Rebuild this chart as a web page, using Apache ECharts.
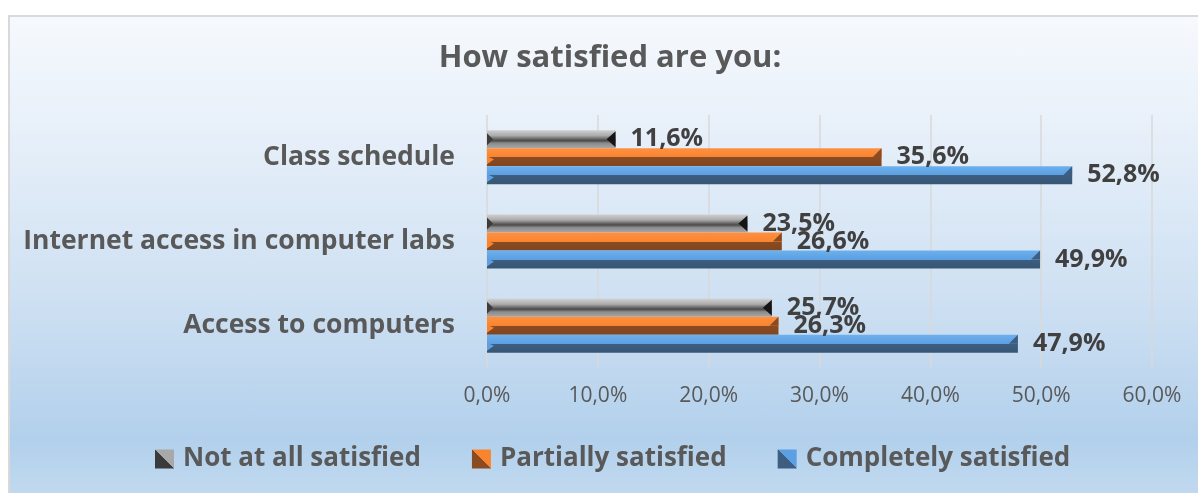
<!DOCTYPE html>
<html>
<head>
<meta charset="utf-8">
<script src="https://cdn.jsdelivr.net/npm/echarts@6/dist/echarts.min.js"></script>
<style>
html,body{margin:0;padding:0;background:#fff;overflow:hidden;}
#frame{position:absolute;left:8px;top:15px;width:1240px;height:490px;border-top:2px solid #D9D9D9;border-left:2px solid #D9D9D9;
background:linear-gradient(to bottom,#F6F9FD 0%,#E6EFF9 25%,#CCDFF2 60%,#B2D0EC 86%,#C4DBF0 100%);}
#chart{position:absolute;left:0;top:0;width:1198px;height:493px;}
</style>
</head>
<body>
<div id="frame"></div>
<div id="chart"></div>
<script>
const categories = ['Access to computers', 'Internet access in computer labs', 'Class schedule'];
const completely = [47.9, 49.9, 52.8];
const partially = [26.3, 26.6, 35.6];
const notAtAll = [25.7, 23.5, 11.6];
const seriesNames = ['Completely satisfied', 'Partially satisfied', 'Not at all satisfied'];
const legendOrder = ['Not at all satisfied', 'Partially satisfied', 'Completely satisfied'];
const xTicks = {min: 0, max: 60, interval: 10};

const FONT = '"Open Sans"';
const BAR_W = 18;

function grad(stops) {
  return new echarts.graphic.LinearGradient(0, 0, 0, 1, stops.map(s => ({offset: s[0], color: s[1]})));
}
function diag(c1, c2) {
  return new echarts.graphic.LinearGradient(0, 1, 1, 0, [
    {offset: 0, color: c1}, {offset: 0.5, color: c1}, {offset: 0.5, color: c2}, {offset: 1, color: c2}]);
}
const blueFill = grad([[0, '#6DB0EE'], [0.5, '#5C9FE2'], [0.5, '#3D5E80'], [1, '#375574']]);
const orangeFill = grad([[0, '#FF9040'], [0.5, '#F98430'], [0.5, '#8A4B22'], [1, '#804520']]);
const grayFill = grad([[0, '#D0D0D0'], [0.3, '#ABABAB'], [0.48, '#6A6A6A'], [0.58, '#4A4A4A'], [0.72, '#8A8A8A'], [1, '#A8A8A8']]);

const fmt = v => v.toFixed(1).replace('.', ',') + '%';

function barSeries(name, data, fill) {
  return {
    name: name, type: 'bar', data: data, barWidth: BAR_W, barGap: '0%',
    itemStyle: {color: fill},
    label: {show: true, position: 'right', distance: 15, formatter: p => fmt(p.value),
      fontFamily: FONT, fontWeight: 'bold', fontSize: 25, color: '#404040'},
    z: 2
  };
}

// bevel end decorations; offset = vertical position of bar in group (px, size not data)
function bevelSeries(data, offset, kind) {
  return {
    type: 'custom', data: data.map((v, i) => [v, i]), z: 3, silent: true,
    renderItem: function (params, api) {
      const end = api.coord([api.value(0), api.value(1)]);
      const start = api.coord([0, api.value(1)]);
      const yc = end[1] + offset;
      const yt = yc - BAR_W / 2, yb = yc + BAR_W / 2, ym = yc;
      const xe = end[0], x0 = start[0];
      if (kind === 'gray') {
        return {type: 'group', children: [
          {type: 'polygon', shape: {points: [[xe, yt + 1], [xe - 9, ym], [xe, yb - 1]]}, style: {fill: '#151515'}},
          {type: 'polygon', shape: {points: [[x0, yt + 3], [x0 + 6, ym], [x0, yb - 3]]}, style: {fill: '#3C3C3C'}}
        ]};
      }
      const dark = kind === 'blue' ? '#3D5E80' : '#8A4B22';
      const light = kind === 'blue' ? '#5C9FE2' : '#F98430';
      return {type: 'group', children: [
        {type: 'polygon', shape: {points: [[xe, yt], [xe, ym], [xe - 9, ym]]}, style: {fill: dark}},
        {type: 'polygon', shape: {points: [[x0, ym - 1], [x0 + 7, ym + 2], [x0, yb - 2]]}, style: {fill: light}}
      ]};
    }
  };
}

const chart = echarts.init(document.getElementById('chart'), null, {renderer: 'canvas'});
chart.setOption({
  backgroundColor: 'transparent',
  animation: false,
  title: {
    text: 'How satisfied are you:', left: 605, top: 38, textAlign: 'center',
    textStyle: {fontFamily: FONT, fontWeight: 'bold', fontSize: 31, color: '#595959'}
  },
  legend: {
    data: [
      {name: legendOrder[0], itemStyle: {color: diag('#3A3A3A', '#A8A8A8')}},
      {name: legendOrder[1], itemStyle: {color: diag('#8A4B22', '#F98430')}},
      {name: legendOrder[2], itemStyle: {color: diag('#3D5E80', '#5C9FE2')}}
    ],
    left: 150, top: 441, itemWidth: 19, itemHeight: 19, itemGap: 51, icon: 'rect',
    textStyle: {fontFamily: FONT, fontWeight: 'bold', fontSize: 26, color: '#595959', padding: [0, 0, 0, 4]}
  },
  grid: {left: 487, right: 46, top: 115, bottom: 125, containLabel: false},
  xAxis: {
    type: 'value', min: xTicks.min, max: xTicks.max, interval: xTicks.interval,
    axisLine: {show: false}, axisTick: {show: false},
    splitLine: {show: true, lineStyle: {color: '#D9D9D9', width: 1.5}},
    axisLabel: {formatter: fmt, fontFamily: FONT, fontSize: 21, color: '#595959', margin: 18}
  },
  yAxis: {
    type: 'category', data: categories,
    axisLine: {show: false}, axisTick: {show: false},
    axisLabel: {fontFamily: FONT, fontWeight: 'bold', fontSize: 26.5, color: '#595959', margin: 32}
  },
  series: [
    barSeries(seriesNames[2], notAtAll, grayFill),
    barSeries(seriesNames[1], partially, orangeFill),
    barSeries(seriesNames[0], completely, blueFill),
    bevelSeries(completely, BAR_W, 'blue'),
    bevelSeries(partially, 0, 'orange'),
    bevelSeries(notAtAll, -BAR_W, 'gray')
  ]
});
</script>
</body>
</html>
